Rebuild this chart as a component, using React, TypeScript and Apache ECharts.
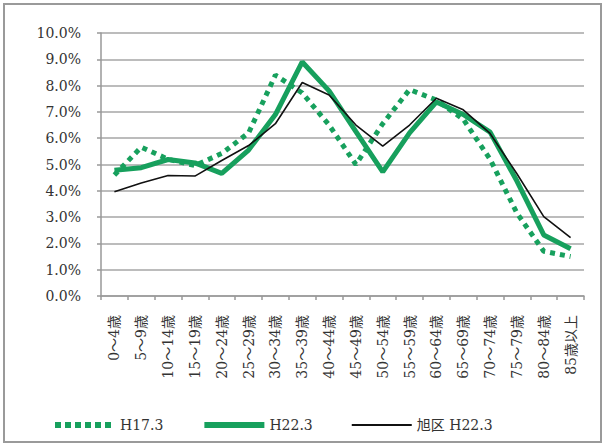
import React, { useEffect, useRef } from "react";
import * as echarts from "echarts";

const categories = [
  "0～4歳", "5～9歳", "10～14歳", "15～19歳", "20～24歳", "25～29歳",
  "30～34歳", "35～39歳", "40～44歳", "45～49歳", "50～54歳", "55～59歳",
  "60～64歳", "65～69歳", "70～74歳", "75～79歳", "80～84歳", "85歳以上",
];

const h17 = [4.6, 5.66, 5.2, 4.96, 5.42, 6.2, 8.4, 7.72, 6.5, 5.0, 6.55, 7.85, 7.45, 6.72, 5.2, 3.15, 1.7, 1.5];
const h22 = [4.78, 4.88, 5.19, 5.06, 4.66, 5.55, 6.9, 8.9, 7.8, 6.25, 4.72, 6.2, 7.38, 6.9, 6.23, 4.37, 2.32, 1.8];
const asahi = [3.96, 4.3, 4.58, 4.56, 5.15, 5.72, 6.55, 8.12, 7.64, 6.5, 5.7, 6.5, 7.52, 7.08, 6.18, 4.65, 3.02, 2.22];

const seriesNames = ["H17.3", "H22.3", "旭区 H22.3"];

const GREEN = "#17a05d";
const SERIF = "'DejaVu Serif', 'Noto Sans CJK JP', serif";

export default function App() {
  const ref = useRef<HTMLDivElement>(null);
  useEffect(() => {
    if (!ref.current) return;
    const chart = echarts.init(ref.current, null, { renderer: "svg" });
    chart.setOption({
      animation: false,
      backgroundColor: "#ffffff",
      graphic: [
        {
          type: "rect",
          shape: { x: 4, y: 4, width: 597, height: 438 },
          style: { fill: "none", stroke: "#9a9a9a", lineWidth: 2 },
          silent: true,
        },
      ],
      grid: { left: 101, right: 22, top: 33, bottom: 150 },
      legend: {
        left: 47,
        top: 413,
        itemWidth: 60,
        itemHeight: 14,
        itemGap: 38,
        itemStyle: { opacity: 0 },
        textStyle: { fontFamily: SERIF, fontSize: 14, color: "#333" },
        data: [
          { name: seriesNames[0], lineStyle: { width: 6, type: [6, 4], cap: "butt" } },
          { name: seriesNames[1], lineStyle: { width: 6 } },
          { name: seriesNames[2], lineStyle: { width: 2 } },
        ],
      },
      xAxis: {
        type: "category",
        data: categories,
        boundaryGap: true,
        axisLine: { lineStyle: { color: "#999", width: 1.5 } },
        axisTick: { show: true, length: 4, alignWithLabel: false, lineStyle: { color: "#999", width: 1.5 } },
        axisLabel: {
          rotate: 90,
          interval: 0,
          margin: 19,
          fontFamily: SERIF,
          fontSize: 14,
          color: "#333",
        },
      },
      yAxis: {
        type: "value",
        min: 0,
        max: 10,
        interval: 1,
        axisLine: { show: true, lineStyle: { color: "#999", width: 1.5 } },
        axisTick: { show: true, length: 4, lineStyle: { color: "#999", width: 1.5 } },
        splitLine: { lineStyle: { color: "#a6a6a6", width: 1.5 } },
        axisLabel: {
          margin: 20,
          fontFamily: SERIF,
          fontSize: 14,
          color: "#333",
          formatter: (v: number) => v.toFixed(1) + "%",
        },
      },
      series: [
        {
          name: seriesNames[0],
          type: "line",
          data: h17,
          symbol: "none",
          itemStyle: { color: GREEN },
          lineStyle: { color: GREEN, width: 5, type: [5, 5], cap: "butt" },
          z: 2,
        },
        {
          name: seriesNames[1],
          type: "line",
          data: h22,
          symbol: "none",
          itemStyle: { color: GREEN },
          lineStyle: { color: GREEN, width: 5 },
          z: 3,
        },
        {
          name: seriesNames[2],
          type: "line",
          data: asahi,
          symbol: "none",
          itemStyle: { color: "#111" },
          lineStyle: { color: "#111", width: 1.6 },
          z: 4,
        },
      ],
    });
    return () => chart.dispose();
  }, []);
  return (
    <div
      ref={ref}
      style={{ position: "fixed", left: 0, top: 0, width: 606, height: 446 }}
    />
  );
}
